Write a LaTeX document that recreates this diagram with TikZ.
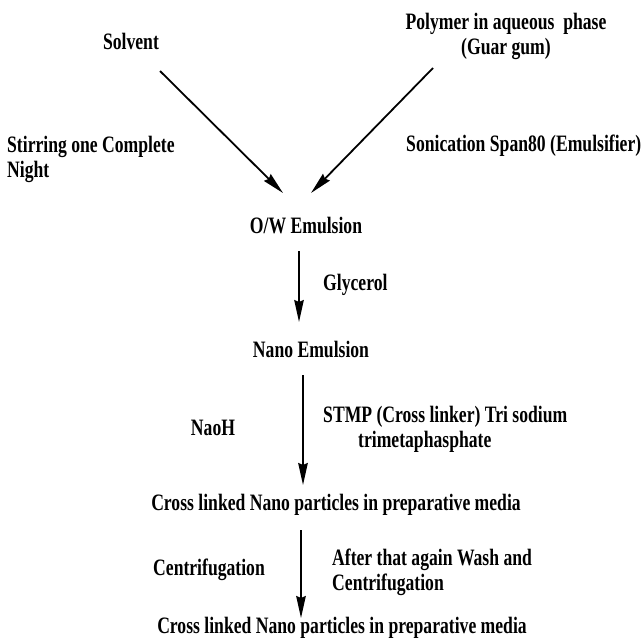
\documentclass[tikz,border=0pt]{standalone}
\usepackage{fontspec}
\setmainfont{Liberation Serif}[FakeStretch=0.75]
\usetikzlibrary{arrows.meta}

\begin{document}
\begin{tikzpicture}[x=1pt, y=-1pt, >={Stealth[length=22pt,width=9.5pt,inset=2pt]},
  font=\fontsize{23.5}{24.5}\selectfont\bfseries,
  lbl/.style={inner sep=0pt, anchor=base},
  side/.style={inner sep=0pt, anchor=base west, align=left},
  flow/.style={->, line width=1.8pt}]
  \useasboundingbox (0,0) rectangle (642,638);

  %% Inputs (multi-line nodes sit on their last baseline)
  \node[lbl, align=center] (polymer) at (506,54) {Polymer in aqueous\ \ phase\\(Guar gum)};
  \node[lbl] (solvent) at (131,49) {Solvent};
  \node[side] (stirring) at (7,177) {Stirring one Complete\\Night};
  \node[side] (sonication) at (406,151) {Sonication Span80 (Emulsifier)};

  %% Main steps
  \node[lbl] (ow) at (306,233) {O/W Emulsion};
  \node[side] (glycerol) at (323,290) {Glycerol};
  \node[lbl] (nano) at (311,357) {Nano Emulsion};
  \node[lbl] (naoh) at (213,435) {NaoH};
  \node[side] (stmp) at (323,447) {STMP (Cross linker) Tri sodium\\\hspace*{35pt}trimetaphasphate};
  \node[lbl] (cross1) at (336,510) {Cross linked Nano particles in preparative media};
  \node[side] (centri) at (153,575) {Centrifugation};
  \node[side] (wash) at (332,590) {After that again Wash and\\Centrifugation};
  \node[lbl] (cross2) at (342,633) {Cross linked Nano particles in preparative media};

  %% Arrow ends
  \coordinate (solvent-out) at (160,71);
  \coordinate (polymer-out) at (433,68);
  \coordinate (ow-inl) at (283,193);
  \coordinate (ow-inr) at (311,193);
  \coordinate (ow-out) at (299,251);
  \coordinate (nano-in) at (299,322);
  \coordinate (nano-out) at (303,375);
  \coordinate (cross1-in) at (303,485);
  \coordinate (cross1-out) at (301,530);
  \coordinate (cross2-in) at (301,618);

  \draw[flow] (solvent-out) -- (ow-inl);
  \draw[flow] (polymer-out) -- (ow-inr);
  \draw[flow] (ow-out) -- (nano-in);
  \draw[flow] (nano-out) -- (cross1-in);
  \draw[flow] (cross1-out) -- (cross2-in);
\end{tikzpicture}
\end{document}
